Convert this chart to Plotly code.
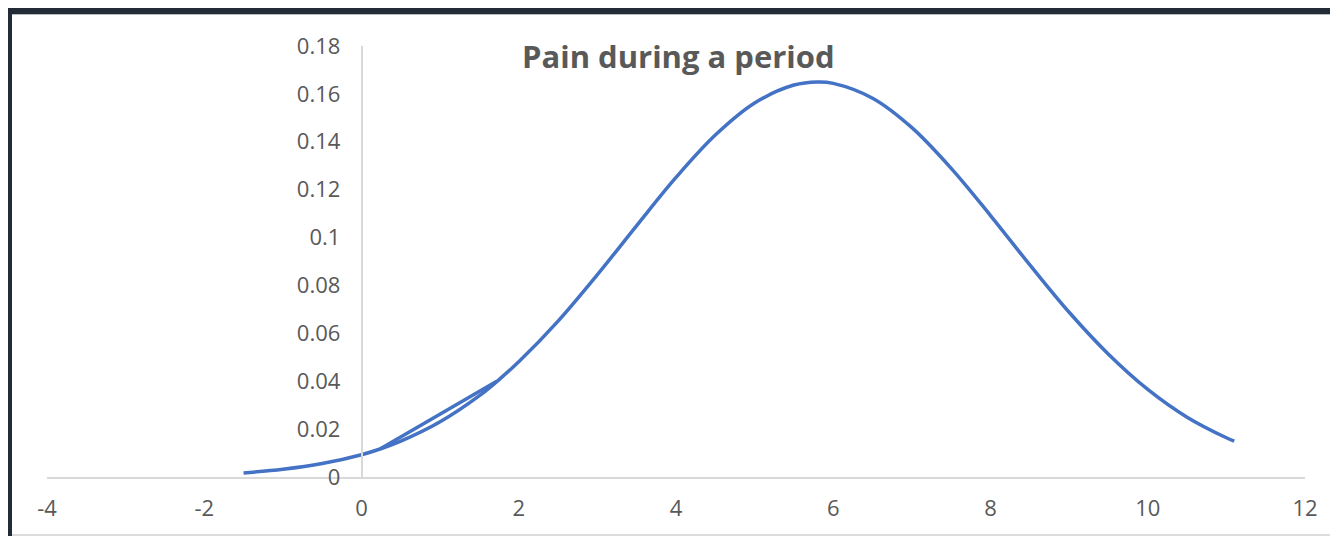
import plotly.graph_objects as go

# ---- data ----
x_curve = [-1.5, -1.0, -0.5, 0.0, 0.235, 0.5, 1.0, 1.5, 1.75, 2.0, 2.5, 3.0, 3.5, 4.0,
           4.5, 5.0, 5.5, 5.8, 6.0, 6.5, 7.0, 7.5, 8.0, 8.5, 9.0, 9.5, 10.0, 10.5, 11.0, 11.1]
y_curve = [0.0017, 0.0032, 0.0056, 0.0093, 0.0117, 0.0150, 0.0231, 0.0340, 0.0407, 0.0481,
           0.0651, 0.0845, 0.1050, 0.1251, 0.1428, 0.1562, 0.1637, 0.1650, 0.1644, 0.1582,
           0.1459, 0.1289, 0.1092, 0.0886, 0.0688, 0.0513, 0.0366, 0.0250, 0.0164, 0.0150]
# straight chord drawn between two of the points
x_chord = [0.235, 1.72]
y_chord = [0.0117, 0.0400]

y_ticks = [0, 0.02, 0.04, 0.06, 0.08, 0.1, 0.12, 0.14, 0.16, 0.18]
y_tick_text = ["0", "0.02", "0.04", "0.06", "0.08", "0.1", "0.12", "0.14", "0.16", "0.18"]
x_ticks = [-4, -2, 0, 2, 4, 6, 8, 10, 12]
x_tick_text = ["-4", "-2", "0", "2", "4", "6", "8", "10", "12"]

TITLE = "Pain during a period"

# ---- layout geometry (page offset of 8px from body margin) ----
OFF = 8
W, H = 1338 - OFF, 536 - OFF
ML, MR, MT, MB = 47 - OFF, 33, 46 - OFF, 59
PW = W - ML - MR
PH = H - MT - MB

def px2x(px):
    return (px - OFF - ML) / PW

def py2y(py):
    return (MT + PH - (py - OFF)) / PH

LINE = "#4472C4"
GREY_TXT = "#595959"
AX = "#d9d9d9"
FONT = "Open Sans"

fig = go.Figure()
fig.add_trace(go.Scatter(x=x_curve, y=y_curve, mode="lines",
                         line=dict(color=LINE, width=3.5, shape="spline", smoothing=1.0),
                         showlegend=False, hoverinfo="x+y"))
fig.add_trace(go.Scatter(x=x_chord, y=y_chord, mode="lines",
                         line=dict(color=LINE, width=3.5),
                         showlegend=False, hoverinfo="x+y"))

shapes = [
    # dark frame: top and left bars
    dict(type="rect", xref="paper", yref="paper", x0=px2x(0), x1=px2x(1345),
         y0=py2y(14), y1=py2y(0), fillcolor="#222b36", line=dict(width=0), layer="above"),
    dict(type="rect", xref="paper", yref="paper", x0=px2x(0), x1=px2x(12),
         y0=py2y(545), y1=py2y(8), fillcolor="#222b36", line=dict(width=0), layer="above"),
    dict(type="line", xref="paper", yref="paper", x0=px2x(12), x1=px2x(1345),
         y0=py2y(14.5), y1=py2y(14.5), line=dict(color="#b8bcc2", width=1)),
    # light bottom border
    dict(type="line", xref="paper", yref="paper", x0=px2x(12), x1=px2x(1345),
         y0=py2y(535), y1=py2y(535), line=dict(color="#d0d0d0", width=1.5)),
]

fig.update_layout(
    width=W, height=H,
    margin=dict(l=ML, r=MR, t=MT, b=MB, pad=0),
    paper_bgcolor="white", plot_bgcolor="white",
    font=dict(family=FONT, color=GREY_TXT, size=22),
    shapes=shapes,
    annotations=[dict(text="<b>" + TITLE + "</b>", xref="paper", yref="paper",
                      x=px2x(678), y=py2y(56), xanchor="center", yanchor="middle",
                      showarrow=False, font=dict(family=FONT, size=31, color=GREY_TXT))],
    xaxis=dict(range=[-4, 12], tickvals=x_ticks, ticktext=x_tick_text,
               showgrid=False, zeroline=False, showline=True, linecolor=AX, linewidth=1.5,
               ticks="", ticklabelstandoff=11, tickfont=dict(size=22, color=GREY_TXT),
               fixedrange=True),
    yaxis=dict(range=[0, 0.18], tickvals=y_ticks, ticktext=y_tick_text,
               anchor="free", position=0.25, side="left",
               showgrid=False, zeroline=False, showline=True, linecolor=AX, linewidth=1.5,
               ticks="", ticklabelstandoff=16, tickfont=dict(size=22, color=GREY_TXT),
               fixedrange=True),
)

fig.write_html("out.html")
